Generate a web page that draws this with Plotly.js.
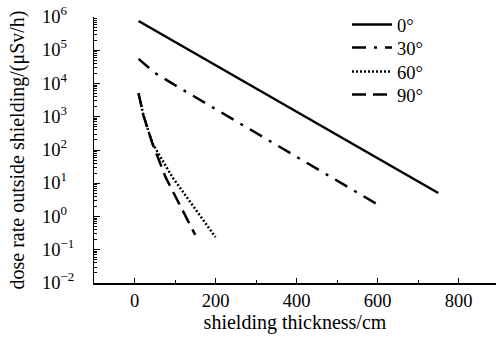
<!DOCTYPE html>
<html>
<head>
<meta charset="utf-8">
<script src="https://cdn.plot.ly/plotly-3.0.1.min.js"></script>
<style>html,body{margin:0;padding:0;background:#fff}#chart{width:496px;height:339px}</style>
</head>
<body>
<div id="chart"></div>
<script>
// Data
const names = ['0°', '30°', '60°', '90°'];
const x0 = [10, 750];
const y0 = [7.6e5, 5.1];
const x30 = [10, 25, 50, 100, 600];
const y30 = [5.5e4, 3.9e4, 2.1e4, 8.9e3, 2.3];
const x60 = [10, 22, 44, 94, 200];
const y60 = [5.1e3, 1.1e3, 160, 15, 0.24];
const x90 = [10, 22, 44, 77, 109, 150];
const y90 = [5.1e3, 1.1e3, 160, 15, 2.6, 0.28];
const yTickVals = [1e-2, 1e-1, 1, 10, 100, 1e3, 1e4, 1e5, 1e6];
const yTickText = ['10<sup>−2</sup>', '10<sup>−1</sup>', '10<sup>0</sup>', '10<sup>1</sup>', '10<sup>2</sup>', '10<sup>3</sup>', '10<sup>4</sup>', '10<sup>5</sup>', '10<sup>6</sup>'];
const xTickVals = [0, 200, 400, 600, 800];

const fam = 'Liberation Serif, Times New Roman, serif';
const tickFont = {family: fam, size: 18.5, color: '#000'};
const titleFont = {family: fam, size: 20, color: '#000'};
const legFont = {family: fam, size: 18.5, color: '#000'};
const lw = 2.5;
const traces = [
  {x: x0, y: y0, name: names[0], legend: 'legend', mode: 'lines', line: {color: '#000', width: lw, dash: 'solid'}},
  {x: x30, y: y30, name: names[1], legend: 'legend2', mode: 'lines', line: {color: '#000', width: lw, dash: '14px,8px,3px,8px'}},
  {x: x60, y: y60, name: names[2], legend: 'legend3', mode: 'lines', line: {color: '#000', width: lw, dash: '2px,2px'}},
  {x: x90, y: y90, name: names[3], legend: 'legend4', mode: 'lines', line: {color: '#000', width: lw, dash: '14px,7px'}}
];
function leg(ypix) {
  return {x: (347 - 94) / 402, xanchor: 'left', y: (283 - ypix) / 266, yanchor: 'middle',
          bgcolor: 'rgba(0,0,0,0)', font: legFont, itemwidth: 40, borderwidth: 0};
}
// y tick labels, left-aligned as in the reference, placed on the log scale
const yLabelAnn = yTickVals.map((v, i) => ({
  xref: 'paper', x: (40 - 94) / 402, xanchor: 'left',
  yref: 'y', y: Math.log10(v), yanchor: 'middle', yshift: 2,
  text: yTickText[i], showarrow: false, font: tickFont
}));
const layout = {
  width: 496, height: 339,
  margin: {l: 94, r: 0, t: 17, b: 56},
  paper_bgcolor: '#fff', plot_bgcolor: '#fff',
  font: tickFont,
  showlegend: true,
  legend: leg(25), legend2: leg(48), legend3: leg(72), legend4: leg(95),
  annotations: yLabelAnn,
  xaxis: {
    range: [-100, 892.6], showgrid: false, zeroline: false,
    showline: true, linecolor: '#000', linewidth: 1.5,
    ticks: 'inside', ticklen: 5, tickcolor: '#000', tickwidth: 1,
    tickvals: xTickVals, ticktext: xTickVals.map(String),
    minor: {ticks: 'inside', ticklen: 3, tickcolor: '#000', dtick: 100, tick0: 0, showgrid: false},
    title: {text: 'shielding thickness/cm', font: titleFont, standoff: 5},
    tickfont: tickFont
  },
  yaxis: {
    type: 'log', range: [-2, 6], showgrid: false, zeroline: false,
    showline: true, linecolor: '#000', linewidth: 1.5,
    ticks: 'inside', ticklen: 6, tickcolor: '#000', tickwidth: 1,
    tickvals: yTickVals, showticklabels: false,
    minor: {ticks: 'inside', ticklen: 3, tickcolor: '#000', dtick: 'D1', showgrid: false},
    title: {text: 'dose rate outside shielding/(μSv/h)', font: titleFont, standoff: 62},
    automargin: false
  }
};
Plotly.newPlot('chart', traces, layout, {staticPlot: true, displayModeBar: false});
</script>
</body>
</html>
